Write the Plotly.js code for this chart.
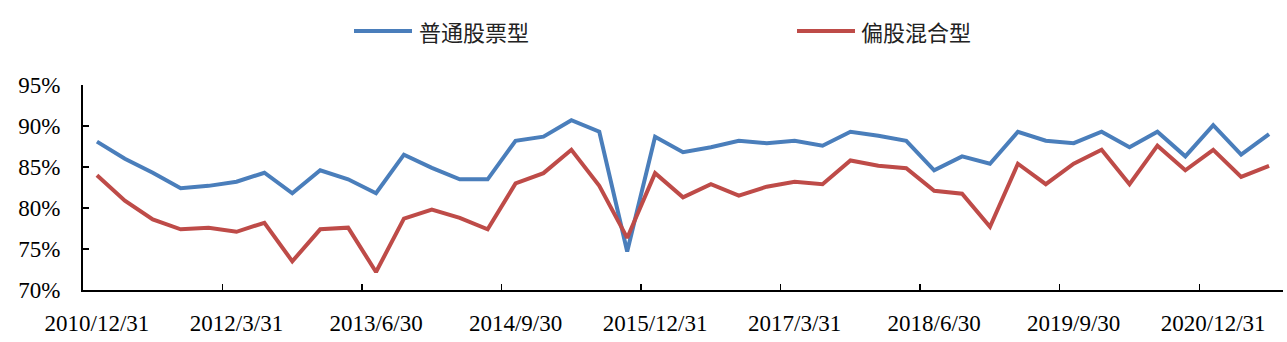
<!DOCTYPE html>
<html>
<head>
<meta charset="utf-8">
<script src="https://cdn.plot.ly/plotly-3.0.1.min.js"></script>
<style>html,body{margin:0;padding:0;background:#fff;}#chart{width:1287px;height:342px;}</style>
</head>
<body>
<div id="chart"></div>
<script>
// Quarter-end dates (categories)
var quarters = [
  "2010/12/31","2011/3/31","2011/6/30","2011/9/30","2011/12/31",
  "2012/3/31","2012/6/30","2012/9/30","2012/12/31",
  "2013/3/31","2013/6/30","2013/9/30","2013/12/31",
  "2014/3/31","2014/6/30","2014/9/30","2014/12/31",
  "2015/3/31","2015/6/30","2015/9/30","2015/12/31",
  "2016/3/31","2016/6/30","2016/9/30","2016/12/31",
  "2017/3/31","2017/6/30","2017/9/30","2017/12/31",
  "2018/3/31","2018/6/30","2018/9/30","2018/12/31",
  "2019/3/31","2019/6/30","2019/9/30","2019/12/31",
  "2020/3/31","2020/6/30","2020/9/30","2020/12/31",
  "2021/3/31","2021/6/30"
];
var seriesNames = ["普通股票型", "偏股混合型"];
// 普通股票型 stock position (%)
var stockFund = [
  88.1, 86.0, 84.3, 82.4, 82.7, 83.2, 84.3, 81.8, 84.6, 83.5,
  81.8, 86.5, 84.9, 83.5, 83.5, 88.2, 88.7, 90.7, 89.3, 74.7,
  88.7, 86.8, 87.4, 88.2, 87.9, 88.2, 87.6, 89.3, 88.8, 88.2,
  84.6, 86.3, 85.4, 89.3, 88.2, 87.9, 89.3, 87.4, 89.3, 86.3,
  90.1, 86.5, 89.0
];
// 偏股混合型 stock position (%)
var mixedFund = [
  84.0, 80.9, 78.6, 77.4, 77.6, 77.1, 78.2, 73.5, 77.4, 77.6,
  72.2, 78.7, 79.8, 78.8, 77.4, 83.0, 84.25, 87.1, 82.7, 76.35,
  84.25, 81.3, 82.9, 81.5, 82.6, 83.2, 82.9, 85.8, 85.15, 84.85,
  82.1, 81.75, 77.7, 85.4, 82.9, 85.4, 87.1, 82.9, 87.6, 84.6,
  87.1, 83.8, 85.15
];
var yTicks = [70, 75, 80, 85, 90, 95];
var colors = ["#4A7EBB", "#BE4B48"];

var traces = [
  {x: quarters, y: stockFund, name: seriesNames[0], type: "scatter", mode: "lines",
   line: {color: colors[0], width: 4}, showlegend: false},
  {x: quarters, y: mixedFund, name: seriesNames[1], type: "scatter", mode: "lines",
   line: {color: colors[1], width: 4}, showlegend: false}
];

var L = 83, R = 4, T = 85, B = 52, W = 1287, H = 342;
var pw = W - L - R, ph = H - T - B;
function px2x(p){ return (p - L) / pw; }
function py2y(p){ return (H - B - p) / ph; }

var legendY = py2y(31);
var shapes = [
  {type: "line", xref: "paper", yref: "paper", x0: px2x(354), x1: px2x(412), y0: legendY, y1: legendY,
   line: {color: colors[0], width: 4}},
  {type: "line", xref: "paper", yref: "paper", x0: px2x(797), x1: px2x(855), y0: legendY, y1: legendY,
   line: {color: colors[1], width: 4}}
];
var annotations = [
  {xref: "paper", yref: "paper", x: px2x(417), y: legendY, xanchor: "left", yanchor: "middle",
   text: seriesNames[0], showarrow: false, font: {family: "Noto Sans CJK SC", size: 22, color: "#222"}},
  {xref: "paper", yref: "paper", x: px2x(859), y: legendY, xanchor: "left", yanchor: "middle",
   text: seriesNames[1], showarrow: false, font: {family: "Noto Sans CJK SC", size: 22, color: "#222"}}
];

var layout = {
  width: W, height: H,
  margin: {l: L, r: R, t: T, b: B, pad: 0},
  paper_bgcolor: "#fff", plot_bgcolor: "#fff",
  showlegend: false,
  xaxis: {
    type: "category",
    range: [-0.5, quarters.length - 0.5],
    tickmode: "linear", tick0: 0, dtick: 5,
    tickson: "boundaries",
    ticks: "inside", ticklen: 6, tickwidth: 1.5, tickcolor: "#000",
    showline: true, linecolor: "#000", linewidth: 2,
    showgrid: false, zeroline: false,
    tickangle: 0,
    ticklabelstandoff: 11,
    tickfont: {family: "Liberation Serif", size: 23, color: "#000"}
  },
  yaxis: {
    range: [70, 95],
    tickmode: "array", tickvals: yTicks, ticktext: yTicks.map(function(v){return v + "%";}),
    ticks: "inside", ticklen: 6, tickwidth: 1.5, tickcolor: "#000",
    showline: true, linecolor: "#000", linewidth: 2,
    showgrid: false, zeroline: false,
    ticklabelstandoff: 16,
    tickfont: {family: "Liberation Serif", size: 23, color: "#000"}
  },
  shapes: shapes,
  annotations: annotations
};

Plotly.newPlot("chart", traces, layout, {displayModeBar: false, staticPlot: true});
</script>
</body>
</html>
